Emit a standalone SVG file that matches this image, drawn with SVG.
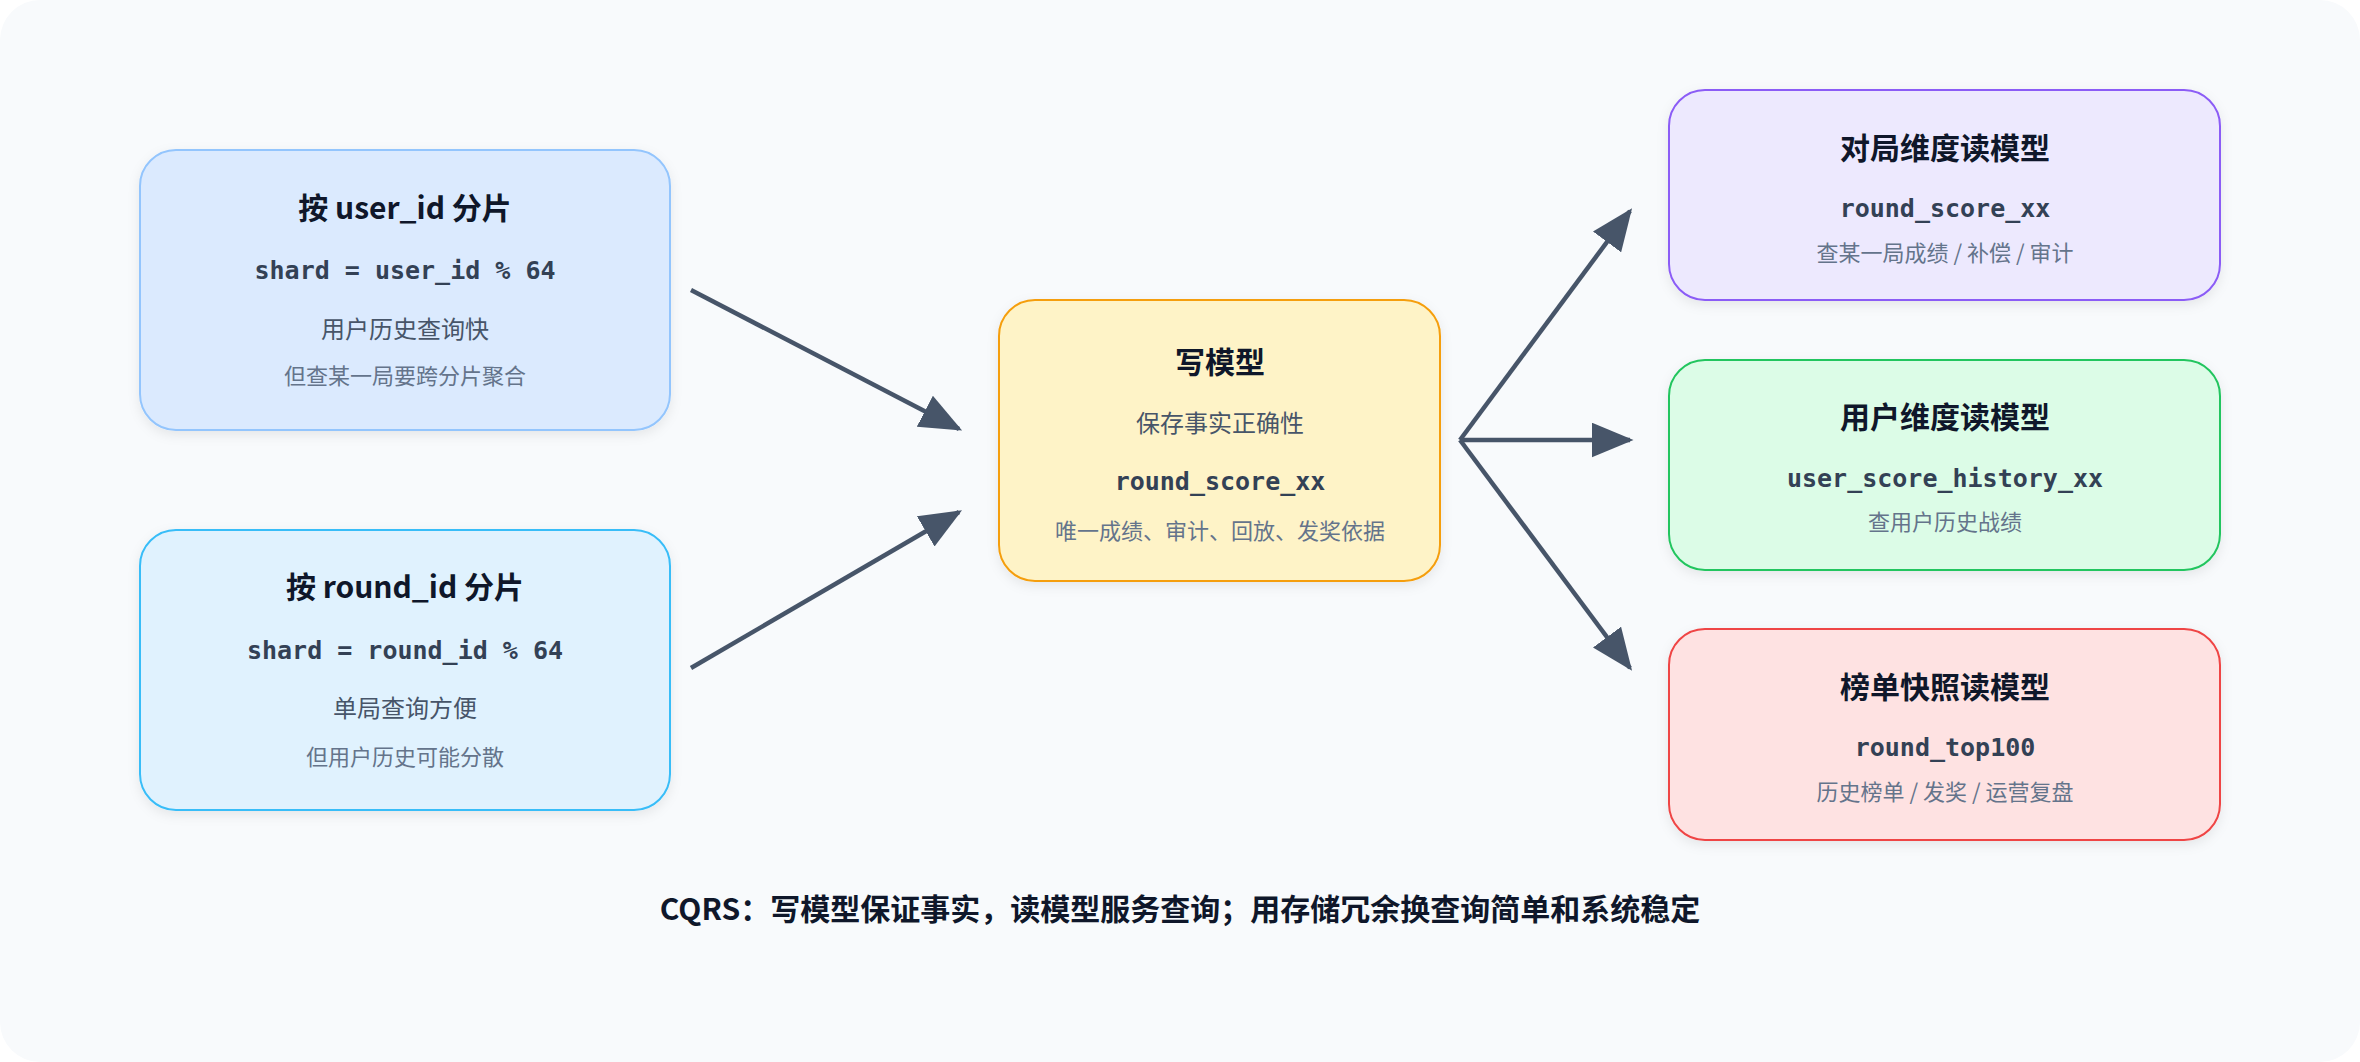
<svg xmlns="http://www.w3.org/2000/svg" width="2360" height="1062" viewBox="0 0 2360 1062">
<defs>
<marker id="ah" viewBox="0 0 10 10" refX="9" refY="5" markerWidth="7" markerHeight="7" markerUnits="userSpaceOnUse" orient="auto"><path d="M0,0 L10,5 L0,10 z" fill="#475569"/></marker>
<marker id="a" viewBox="0 0 12 10" refX="11" refY="5" markerWidth="42" markerHeight="35" markerUnits="userSpaceOnUse" orient="auto"><path d="M0,0 L12,5 L0,10 z" fill="#475569"/></marker>
<filter id="sh" x="-10%" y="-10%" width="120%" height="130%"><feDropShadow dx="0" dy="4" stdDeviation="6" flood-color="#0f172a" flood-opacity="0.08"/></filter>
</defs>
<style>
text{font-family:"Noto Sans CJK SC","Noto Sans",sans-serif;text-anchor:middle}
.t{font-size:30px;font-weight:bold;fill:#0f172a}
.m{font-family:"DejaVu Sans Mono","Liberation Mono","Noto Sans CJK SC",monospace;font-size:25px;font-weight:bold;fill:#334155}
.s{font-size:24px;fill:#475569}
.g{font-size:22px;fill:#64748b}
.b{stroke-width:2;filter:url(#sh)}
.c{stroke:#475569;stroke-width:4.5;fill:none;marker-end:url(#a)}
</style>
<rect x="0" y="0" width="2360" height="1062" rx="40" fill="#f8fafc"/>
<g id="n1"><rect class="b" x="140" y="150" width="530" height="280" rx="36" fill="#dbeafe" stroke="#93c5fd"/>
<text class="t" x="405" y="219">按 user_id 分片</text><text class="m" x="405" y="279">shard = user_id % 64</text><text class="s" x="405" y="338">用户历史查询快</text><text class="g" x="405" y="384">但查某一局要跨分片聚合</text></g>
<g id="n2"><rect class="b" x="140" y="530" width="530" height="280" rx="36" fill="#e0f2fe" stroke="#38bdf8"/>
<text class="t" x="405" y="598">按 round_id 分片</text><text class="m" x="405" y="659">shard = round_id % 64</text><text class="s" x="405" y="717">单局查询方便</text><text class="g" x="405" y="765">但用户历史可能分散</text></g>
<g id="n3"><rect class="b" x="999" y="300" width="441" height="281" rx="36" fill="#fef3c7" stroke="#f59e0b"/>
<text class="t" x="1220" y="373">写模型</text><text class="s" x="1220" y="432">保存事实正确性</text><text class="m" x="1220" y="490">round_score_xx</text><text class="g" x="1220" y="539">唯一成绩、审计、回放、发奖依据</text></g>
<g id="n4"><rect class="b" x="1669" y="90" width="551" height="210" rx="36" fill="#ede9fe" stroke="#8b5cf6"/>
<text class="t" x="1945" y="159">对局维度读模型</text><text class="m" x="1945" y="217">round_score_xx</text><text class="g" x="1945" y="261">查某一局成绩 / 补偿 / 审计</text></g>
<g id="n5"><rect class="b" x="1669" y="360" width="551" height="210" rx="36" fill="#dcfce7" stroke="#22c55e"/>
<text class="t" x="1945" y="428">用户维度读模型</text><text class="m" x="1945" y="487">user_score_history_xx</text><text class="g" x="1945" y="530">查用户历史战绩</text></g>
<g id="n6"><rect class="b" x="1669" y="629" width="551" height="211" rx="36" fill="#fee2e2" stroke="#ef4444"/>
<text class="t" x="1945" y="698">榜单快照读模型</text><text class="m" x="1945" y="756">round_top100</text><text class="g" x="1945" y="800">历史榜单 / 发奖 / 运营复盘</text></g>
<g id="connectors">
<line class="c" x1="691" y1="290" x2="959" y2="429"/>
<line class="c" x1="691" y1="668" x2="959" y2="512"/>
<line class="c" x1="1460" y1="440" x2="1630" y2="211"/>
<line class="c" x1="1460" y1="440" x2="1630" y2="440"/>
<line class="c" x1="1460" y1="440" x2="1630" y2="668"/>
</g>
<text x="1180" y="920" style="font-size:30px;font-weight:bold;fill:#0f172a">CQRS：写模型保证事实，读模型服务查询；用存储冗余换查询简单和系统稳定</text>
</svg>
